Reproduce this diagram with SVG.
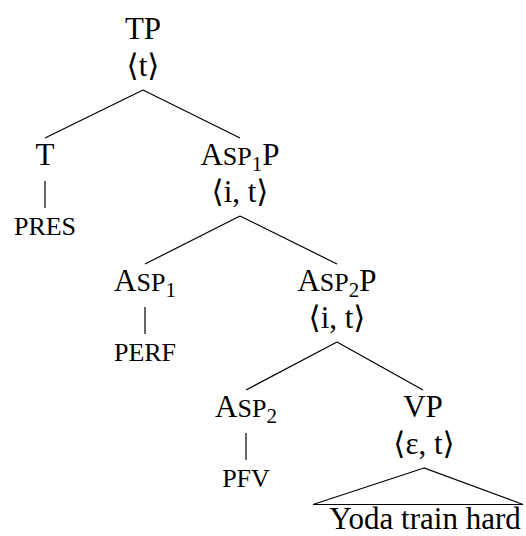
<svg xmlns="http://www.w3.org/2000/svg" width="526" height="536" viewBox="0 0 526 536">
<style>
text{font-family:"Liberation Serif","DejaVu Serif",serif;font-size:31px;fill:#000;text-anchor:middle}
.sc{font-size:26px}
.sub{font-size:21px}
.edge{stroke:#000;stroke-width:1.2;fill:none}
</style>
<rect width="526" height="536" fill="#fff"/>
<g id="connectors">
<line class="edge" x1="143" y1="90" x2="45" y2="138"/>
<line class="edge" x1="143" y1="90" x2="240" y2="138"/>
<line class="edge" x1="45" y1="181" x2="45" y2="208"/>
<line class="edge" x1="240" y1="216" x2="145" y2="264"/>
<line class="edge" x1="240" y1="216" x2="337" y2="264"/>
<line class="edge" x1="145" y1="307" x2="145" y2="334"/>
<line class="edge" x1="337" y1="342" x2="246" y2="390"/>
<line class="edge" x1="337" y1="342" x2="423" y2="390"/>
<line class="edge" x1="246" y1="433" x2="246" y2="460"/>
<polygon class="edge" points="424,468 313,504.5 523,504.5"/>
</g>
<g id="TP"><text x="143" y="39">TP</text><text x="143" y="76">⟨t⟩</text></g>
<g id="T"><text x="45" y="165">T</text></g>
<g id="PRES"><text class="sc" x="45" y="235">PRES</text></g>
<g id="Asp1P"><text x="240" y="165">A<tspan class="sc">SP</tspan><tspan class="sub" dy="6">1</tspan><tspan dy="-6">P</tspan></text><text x="240" y="202">⟨i, t⟩</text></g>
<g id="Asp1"><text x="145" y="291">A<tspan class="sc">SP</tspan><tspan class="sub" dy="6">1</tspan></text></g>
<g id="PERF"><text class="sc" x="145" y="361">PERF</text></g>
<g id="Asp2P"><text x="337" y="291">A<tspan class="sc">SP</tspan><tspan class="sub" dy="6">2</tspan><tspan dy="-6">P</tspan></text><text x="337" y="328">⟨i, t⟩</text></g>
<g id="Asp2"><text x="246" y="417">A<tspan class="sc">SP</tspan><tspan class="sub" dy="6">2</tspan></text></g>
<g id="PFV"><text class="sc" x="246" y="487">PFV</text></g>
<g id="VP"><text x="423" y="417">VP</text><text x="424" y="454">⟨ε, t⟩</text></g>
<g id="Yoda"><text x="425" y="529">Yoda train hard</text></g>
</svg>
